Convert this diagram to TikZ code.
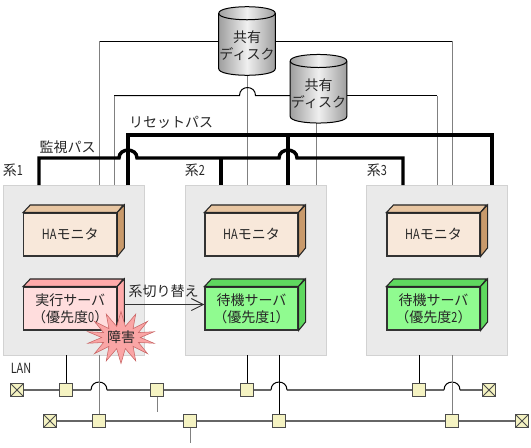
\documentclass[tikz,border=0pt]{standalone}
\usepackage{fontspec}
\setmainfont{Noto Sans CJK JP}
\newfontfamily\latfont[FakeStretch=0.78]{Noto Sans CJK JP}
\usetikzlibrary{arrows.meta,shapes.symbols}
\definecolor{panelgray}{HTML}{EAEAEA}
\definecolor{panelline}{HTML}{D2D2D2}
\definecolor{hafront}{HTML}{F8E8DA}
\definecolor{hatop}{HTML}{E8C6A2}
\definecolor{haside}{HTML}{C99A6B}
\definecolor{redfront}{HTML}{FFDDDD}
\definecolor{redside}{HTML}{FFAAAA}
\definecolor{grnfront}{HTML}{90FB90}
\definecolor{grnside}{HTML}{5FD85F}
\definecolor{tapfill}{HTML}{F5F3C2}
\definecolor{burstfill}{HTML}{FAA5A5}
\definecolor{burstline}{HTML}{C86464}
\tikzset{
  tlab/.style={font=\fontsize{10.5pt}{12.75pt}\selectfont,text=black!85,inner sep=0pt},
  panel/.style={draw=panelline,fill=panelgray,minimum width=106pt,minimum height=127.5pt,inner sep=0pt},
  boxfront/.style={tlab,draw=black!80,line width=0.8pt,minimum width=69.75pt,minimum height=32.25pt,align=center},
  boxface/.style={draw=black!85,line width=0.8pt},
  disk/.style={minimum width=42pt,minimum height=41.25pt,inner sep=0pt},
  diskshade/.style={draw=black,line width=0.75pt,left color=black!38,right color=black!38,middle color=black!6},
  tap/.style={draw=black!70,fill=tapfill,line width=0.8pt,minimum size=9.75pt,inner sep=0pt},
  endtap/.style={tap,path picture={
    \draw[black!70,line width=0.6pt] (path picture bounding box.north west) -- (path picture bounding box.south east)
      (path picture bounding box.north east) -- (path picture bounding box.south west);}},
  thinln/.style={line width=0.75pt,black},
  grayln/.style={line width=0.75pt,black!50},
  thickln/.style={line width=2.6pt,black},
  lanln/.style={line width=1.2pt,black!60},
  hop/.style={out=90,in=90,looseness=1.7},
}
\begin{document}
\begin{tikzpicture}[x=0.75pt,y=-0.75pt]
  \useasboundingbox (0,0) rectangle (531,447);
  \def\boxfaces#1#2#3{%
    \draw[boxface,fill=#2] (#1.north west) -- ++(7,-7.5) -- ++(93,0) -- (#1.north east) -- cycle;
    \draw[boxface,fill=#3] (#1.north east) -- ++(7,-7.5) -- ++(0,43) -- (#1.south east) -- cycle;}
  \def\diskdrum#1{%
    \draw[diskshade] (#1.north west) .. controls +(0,-8.7) and +(0,-8.7) .. (#1.north east)
      -- (#1.south east) .. controls +(0,8.7) and +(0,8.7) .. (#1.south west) -- cycle;
    \draw[line width=0.75pt] (#1.north west) .. controls +(0,8.7) and +(0,8.7) .. (#1.north east);}
  % panels
  \node[panel] (sysA) at (74,270) {};
  \node[panel] (sysB) at (255.5,270) {};
  \node[panel] (sysC) at (437,270) {};
  \node[tlab] (sysAlab) at (13,170) {系{\latfont 1}};
  \node[tlab] (sysBlab) at (195,170) {系{\latfont 2}};
  \node[tlab] (sysClab) at (377,170) {系{\latfont 3}};
  % disks
  \node[disk] (diskA) at (247,41) {};
  \node[disk] (diskB) at (318.5,88.75) {};
  % ports on the panels
  \coordinate (portA) at (99,185);
  \coordinate (portB) at (114,185);
  \coordinate (portC) at (247.5,185);
  \coordinate (portD) at (316,185);
  \coordinate (portE) at (437,185);
  \coordinate (portF) at (452,185);
  % disk cables
  \draw[thinln] (diskA.west) -- (99,41);
  \draw[grayln] (99,41) -- (portA);
  \draw[thinln] (diskA.east) -- (452,41);
  \draw[grayln] (452,41) -- (portF);
  \draw[grayln] (diskA.south -| portC) -- (portC);
  \draw[grayln] (diskB.south -| portD) -- (portD);
  \draw[thinln] (diskB.west |- 0,95.5) -- (255.5,95.5) to[hop] (239.5,95.5) -- (114,95.5);
  \draw[grayln] (114,95.5) -- (portB);
  \draw[thinln] (diskB.east |- 0,95.5) -- (437,95.5);
  \draw[grayln] (437,95.5) -- (portE);
  \diskdrum{diskA}
  \diskdrum{diskB}
  \node[tlab,align=center] (diskAlab) at (247,46) {共有\\ディスク};
  \node[tlab,align=center] (diskBlab) at (318.5,94) {共有\\ディスク};
  % monitoring path
  \draw[thickln] (39,185) -- (39,158) -- (119,158) to[hop,looseness=1.5] (137,158)
    -- (279,158) to[hop,looseness=1.5] (297,158) -- (403,158) -- (403,185);
  \draw[thickln] (221,158) -- (221,185);
  % reset path
  \draw[thickln] (128,185) -- (128,135) -- (492,135) -- (492,185);
  \draw[thickln] (288,135) -- (288,185);
  \node[tlab] (monlab) at (67.5,147) {監視パス};
  \node[tlab] (rstlab) at (171,122.5) {リセットパス};
  % monitors
  \node[boxfront,fill=hafront] (monA) at (70.25,234.5) {{\latfont HA}モニタ};
  \node[boxfront,fill=hafront] (monB) at (251.5,234.5) {{\latfont HA}モニタ};
  \node[boxfront,fill=hafront] (monC) at (433.5,234.5) {{\latfont HA}モニタ};
  \boxfaces{monA}{hatop}{haside}
  \boxfaces{monB}{hatop}{haside}
  \boxfaces{monC}{hatop}{haside}
  % servers
  \node[boxfront,fill=redfront] (srvA) at (70.25,308.5) {実行サーバ\\（優先度{\latfont 0}）};
  \node[boxfront,fill=grnfront] (srvB) at (251.5,308.5) {待機サーバ\\（優先度{\latfont 1}）};
  \node[boxfront,fill=grnfront] (srvC) at (433.5,308.5) {待機サーバ\\（優先度{\latfont 2}）};
  \boxfaces{srvA}{redside}{redside}
  \boxfaces{srvB}{grnside}{grnside}
  \boxfaces{srvC}{grnside}{grnside}
  % switch over
  \coordinate (swsrc) at (124,304.5);
  \draw[line width=0.75pt,black!80,-{Straight Barb[length=9pt,width=9pt]}] (swsrc) -- (srvB.west |- swsrc);
  \node[tlab] (swlab) at (163.5,291) {系切り替え};
  % failure
  \node[starburst,starburst points=14,starburst point height=11pt,random starburst=0,
    draw=burstline,fill=burstfill,minimum width=51pt,minimum height=39pt,inner sep=0pt] (fail) at (121,337.5) {};
  \node[tlab] (faillab) at (fail) {障害};
  % LAN taps
  \node[tlab] (lanlab) at (21,368) {\latfont LAN};
  \node[endtap] (endA) at (17,390) {};
  \node[tap] (tapA) at (66,390) {};
  \node[tap] (tapB) at (157,390) {};
  \node[tap] (tapC) at (247,390) {};
  \node[tap] (tapD) at (419,390) {};
  \node[endtap] (endB) at (489,390) {};
  \node[endtap] (endC) at (50,421) {};
  \node[tap] (tapE) at (99,421) {};
  \node[tap] (tapF) at (190,421) {};
  \node[tap] (tapG) at (279,421) {};
  \node[tap] (tapH) at (452,421) {};
  \node[endtap] (endD) at (522,421) {};
  % LAN lines
  \draw[lanln] (endA) -- (tapA) -- (91,390);
  \draw[lanln] (107,390) -- (tapB) -- (tapC) -- (271,390);
  \draw[lanln] (287,390) -- (tapD) -- (444,390);
  \draw[lanln] (460,390) -- (endB);
  \draw[lanln] (endC) -- (tapE) -- (tapF) -- (tapG) -- (tapH) -- (endD);
  \draw[thinln] (91,390) to[hop] (107,390);
  \draw[thinln] (271,390) to[hop] (287,390);
  \draw[thinln] (444,390) to[hop] (460,390);
  % drops
  \draw[thinln] (sysA.south -| tapA) -- (tapA);
  \draw[grayln] (sysA.south -| tapE) -- (tapE);
  \draw[thinln] (sysB.south -| tapC) -- (tapC);
  \draw[thinln] (sysB.south -| tapG) -- (tapG);
  \draw[thinln] (sysC.south -| tapD) -- (tapD);
  \draw[grayln] (sysC.south -| tapH) -- (tapH);
  \coordinate (stubA) at (157,412);
  \coordinate (stubB) at (190,443);
  \draw[grayln] (tapB) -- (stubA);
  \draw[grayln] (tapF) -- (stubB);
\end{tikzpicture}
\end{document}
